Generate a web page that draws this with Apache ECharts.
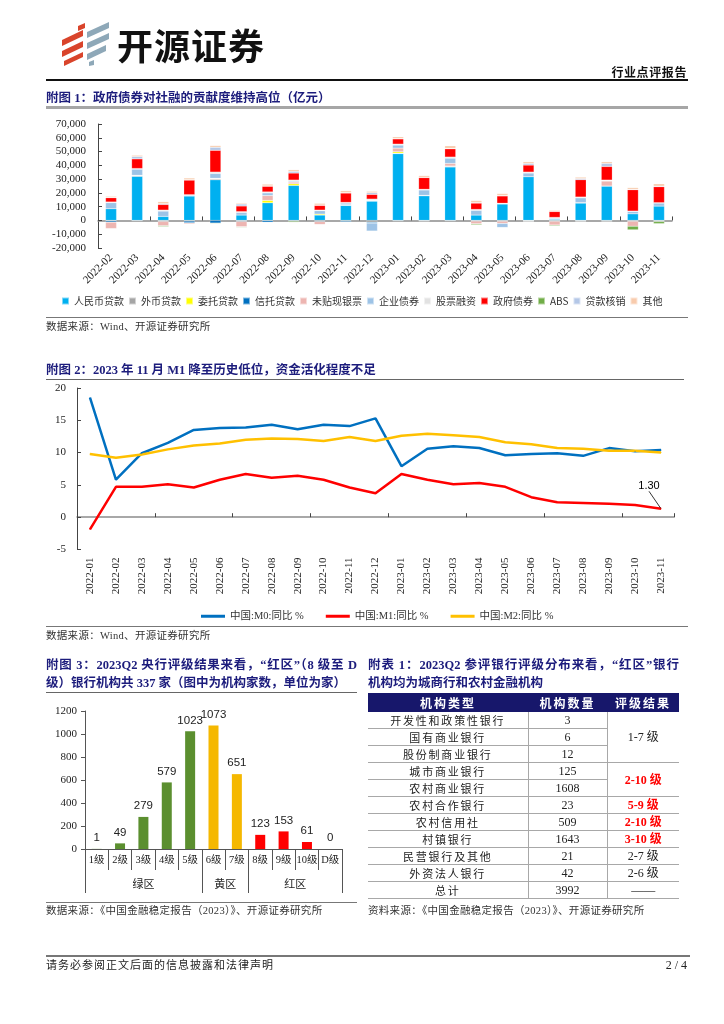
<!DOCTYPE html>
<html><head><meta charset="utf-8">
<script src="https://cdn.jsdelivr.net/npm/echarts@6/dist/echarts.min.js"></script>
<style>
html,body{margin:0;padding:0;background:#fff;}
#page{position:relative;width:724px;height:1024px;overflow:hidden;font-family:"Liberation Serif","Noto Sans CJK SC",serif;color:#222;}
#chart{position:absolute;left:0;top:0;width:724px;height:1024px;}
.t{position:absolute;white-space:nowrap;}
.title{font-weight:bold;color:#1c1c7c;font-size:12.5px;line-height:16px;}
.just{text-align:justify;text-align-last:justify;}
.ln{position:absolute;}
.src{font-size:10.5px;line-height:14px;color:#333;letter-spacing:0.3px;}
#tbl{position:absolute;left:368px;top:693px;width:311px;border-collapse:collapse;table-layout:fixed;}
#tbl th{background:#17176b;color:#fff;font-weight:bold;height:19px;padding:0;font-size:12px;letter-spacing:2px;font-family:"Noto Sans CJK SC",sans-serif;}
#tbl td{height:16px;padding:0;border-bottom:1px solid #a8a8a8;text-align:center;font-size:12px;line-height:16px;}
#tbl td.c1{font-family:"Noto Sans CJK SC",sans-serif;font-size:11px;letter-spacing:1.8px;}
#tbl td.bd{border-right:1px solid #a8a8a8;}
#tbl td.red{color:#ff0000;font-weight:bold;}
</style></head>
<body>
<div id="page">
<div id="chart"></div>
<svg class="ln" style="left:58px;top:20px" width="56" height="46" viewBox="0 0 56 46">
  <g fill="#d9442b">
    <polygon points="20,6 27,3 27,8 20,11"/>
    <polygon points="4,20 25,10 25,16 4,26"/>
    <polygon points="4,31 25,21 25,27 4,37"/>
    <polygon points="6,41 25,32 25,37 6,46"/>
  </g>
  <g fill="#8ea8b8">
    <polygon points="29,12 51,2 51,8 29,18"/>
    <polygon points="29,23 51,13 51,19 29,29"/>
    <polygon points="29,34 48,25 48,31 29,40"/>
    <polygon points="31,42 36,40 36,45 31,46"/>
  </g>
</svg>
<div class="t" style="left:117px;top:23px;font-size:36px;line-height:42px;font-weight:bold;color:#111;letter-spacing:1px;font-family:'Noto Sans CJK SC',sans-serif;">开源证券</div>
<div class="t" style="right:37px;top:66px;font-size:12px;line-height:14px;font-weight:bold;letter-spacing:0.6px;color:#111;">行业点评报告</div>
<div class="ln" style="left:46px;top:79px;width:642px;height:1.5px;background:#111;"></div>

<div class="t title" style="left:46px;top:90px;">附图 1：政府债券对社融的贡献度维持高位（亿元）</div>
<div class="ln" style="left:46px;top:106px;width:642px;height:2.5px;background:#a6a6a6;"></div>
<div class="ln" style="left:46px;top:317px;width:642px;height:1px;background:#777;"></div>
<div class="t src" style="left:46px;top:320px;">数据来源：Wind、开源证券研究所</div>

<div class="t title" style="left:46px;top:362px;">附图 2：2023 年 11 月 M1 降至历史低位，资金活化程度不足</div>
<div class="ln" style="left:46px;top:379px;width:638px;height:1px;background:#666;"></div>
<div class="ln" style="left:46px;top:626px;width:642px;height:1px;background:#777;"></div>
<div class="t src" style="left:46px;top:629px;">数据来源：Wind、开源证券研究所</div>

<div class="t title just" style="left:46px;top:657px;width:311px;">附图 3：2023Q2 央行评级结果来看，“红区”（8 级至 D</div>
<div class="t title" style="left:46px;top:675px;">级）银行机构共 337 家（图中为机构家数，单位为家）</div>
<div class="ln" style="left:46px;top:692px;width:311px;height:1px;background:#666;"></div>
<div class="ln" style="left:46px;top:902px;width:311px;height:1px;background:#777;"></div>
<div class="t src" style="left:46px;top:904px;">数据来源：《中国金融稳定报告（2023）》、开源证券研究所</div>

<div class="t title just" style="left:368px;top:657px;width:311px;">附表 1：2023Q2 参评银行评级分布来看，“红区”银行</div>
<div class="t title" style="left:368px;top:675px;">机构均为城商行和农村金融机构</div>
<table id="tbl"></table>
<div class="t src" style="left:368px;top:904px;">资料来源：《中国金融稳定报告（2023）》、开源证券研究所</div>

<div class="ln" style="left:46px;top:955px;width:644px;height:2px;background:#777;"></div>
<div class="t" style="left:46px;top:958px;font-size:11px;line-height:14px;letter-spacing:1px;color:#222;">请务必参阅正文后面的信息披露和法律声明</div>
<div class="t" style="right:37px;top:958px;font-size:12px;line-height:14px;color:#222;">2 / 4</div>
</div>

<script>
// ---------- 附图1 data (亿元) ----------
const cats1 = ['2022-02','2022-03','2022-04','2022-05','2022-06','2022-07','2022-08','2022-09','2022-10','2022-11','2022-12',
               '2023-01','2023-02','2023-03','2023-04','2023-05','2023-06','2023-07','2023-08','2023-09','2023-10','2023-11'];
const rmb      = [8500, 32000, 2900, 17700, 29500, 3900, 12800, 25400, 3900, 10900, 14000, 48500, 17900, 38800, 3900, 11900, 31700, 800, 12600, 24900, 4800, 10400];
const fx       = [-300, 500, -300, -400, 700, -300, -200, -300, -500, -300, -1300, 300, 200, 500, -300, -400, -100, -400, -200, -300, -400, -300];
const entrust  = [-100, 100, -200, -100, 100, -100, 1700, 1200, 700, 200, 300, 1000, 100, 200, -100, -100, -100, -100, -100, 100, -100, -100];
const trust    = [-900, -100, -300, -1200, -1900, -400, -1100, -300, -400, -700, -600, -100, -100, -100, -100, -100, -100, -100, -100, -100, -100, -100];
const undisc   = [-4600, 200, -3000, -800, 300, -3800, 3600, 1200, -2000, 300, 200, 2700, -200, 1900, -1900, -1600, -300, -2700, 400, 3600, -3600, -300];
const corp     = [4400, 4400, 3900, 600, 3500, 1900, 1900, 700, 2400, 1200, -5800, 2200, 3900, 3800, 3400, -2900, 2700, 700, 3400, 300, 1700, 2200];
const equity   = [500, 500, 700, 400, 1000, 600, 700, 800, 500, 500, 1000, 700, 500, 800, 700, 600, 700, 700, 600, 400, 300, 300];
const gov      = [3100, 7000, 4100, 10600, 15800, 4100, 4100, 5100, 3400, 6800, 3400, 3800, 8500, 6000, 4600, 5300, 5100, 4300, 12600, 9900, 15500, 11600];
const absArr   = [-300, -100, -600, -300, -400, -400, -200, -700, -300, -300, -300, -300, -100, -100, -700, -300, -100, -600, -200, -200, -2600, -1500];
const writeoff = [300, 1700, 600, 300, 2200, 1400, 300, 1200, 300, 300, 1200, 300, 200, 300, 400, 300, 1200, 300, 800, 2200, 300, 400];
const other    = [700, 900, 1400, 1200, 1200, 700, 1200, 1200, 1200, 1400, 1000, 1200, 1200, 1900, 1400, 1400, 1200, 600, 1000, 1200, 1200, 1700];
const names1   = ['人民币贷款','外币贷款','委托贷款','信托贷款','未贴现银票','企业债券','股票融资','政府债券','ABS','贷款核销','其他'];

// ---------- 附图2 data (%) ----------
const cats2 = ['2022-01','2022-02','2022-03','2022-04','2022-05','2022-06','2022-07','2022-08','2022-09','2022-10','2022-11','2022-12',
               '2023-01','2023-02','2023-03','2023-04','2023-05','2023-06','2023-07','2023-08','2023-09','2023-10','2023-11'];
const m0 = [18.5, 5.8, 9.9, 11.5, 13.5, 13.8, 13.9, 14.3, 13.6, 14.3, 14.1, 15.3, 7.9, 10.6, 11.0, 10.7, 9.6, 9.8, 9.9, 9.5, 10.7, 10.2, 10.4];
const m1 = [-1.9, 4.7, 4.7, 5.1, 4.6, 5.8, 6.7, 6.1, 6.4, 5.8, 4.6, 3.7, 6.7, 5.8, 5.1, 5.3, 4.7, 3.1, 2.3, 2.2, 2.1, 1.9, 1.3];
const m2 = [9.8, 9.2, 9.7, 10.5, 11.1, 11.4, 12.0, 12.2, 12.1, 11.8, 12.4, 11.8, 12.6, 12.9, 12.7, 12.4, 11.6, 11.3, 10.7, 10.6, 10.3, 10.3, 10.0];
const names2 = ['中国:M0:同比 %','中国:M1:同比 %','中国:M2:同比 %'];

// ---------- 附图3 data (家) ----------
const grades = ['1级','2级','3级','4级','5级','6级','7级','8级','9级','10级','D级'];
const counts = [1, 49, 279, 579, 1023, 1073, 651, 123, 153, 61, 0];
const zoneNames = ['绿区','黄区','红区'];
const zoneSizes = [5, 2, 4];

// ---------- 附表1 data ----------
const tblHead = ['机构类型','机构数量','评级结果'];
const tblTypes = ['开发性和政策性银行','国有商业银行','股份制商业银行','城市商业银行','农村商业银行','农村合作银行','农村信用社','村镇银行','民营银行及其他','外资法人银行','总计'];
const tblCounts = [3, 6, 12, 125, 1608, 23, 509, 1643, 21, 42, 3992];
const tblGrades = ['1-7 级','1-7 级','1-7 级','2-10 级','2-10 级','5-9 级','2-10 级','3-10 级','2-7 级','2-6 级','——'];

// ---------- build table ----------
(function(){
  const t = document.getElementById('tbl');
  let h = '<colgroup><col style="width:160px"><col style="width:79px"><col style="width:72px"></colgroup>';
  h += '<tr>' + tblHead.map(x=>'<th>'+x+'</th>').join('') + '</tr>';
  for (let i=0;i<tblTypes.length;i++){
    h += '<tr>';
    h += '<td class="c1 bd">'+tblTypes[i]+'</td>';
    h += '<td class="bd">'+tblCounts[i]+'</td>';
    if (i===0 || tblGrades[i]!==tblGrades[i-1]){
      let span=1; while(i+span<tblGrades.length && tblGrades[i+span]===tblGrades[i]) span++;
      const m = tblGrades[i].match(/-(\d+)/);
      const red = m && parseInt(m[1],10) >= 8;
      h += '<td rowspan="'+span+'"'+(red?' class="red"':'')+'>'+tblGrades[i]+'</td>';
    }
    h += '</tr>';
  }
  t.innerHTML = h;
})();

// ---------- chart ----------
const serif = "'Liberation Serif','Noto Sans CJK SC'";
const cjk = "'Noto Sans CJK SC'";
const colors1 = ['#00B0F0','#A5A5A5','#FFFF00','#0070C0','#EDB5B1','#9DC3E6','#E2E2E2','#FF0000','#70AD47','#B4C7E7','#F8CBAD'];
const vals1 = [rmb, fx, entrust, trust, undisc, corp, equity, gov, absArr, writeoff, other];
const zoneColors = ['#5B8F2F','#F5B800','#FF0000'];
const gradeZone = [];
zoneSizes.forEach((n,z)=>{ for(let k=0;k<n;k++) gradeZone.push(z); });
const zoneBounds = [0]; zoneSizes.forEach(n=>zoneBounds.push(zoneBounds[zoneBounds.length-1]+n));
const zoneCenters = zoneSizes.map((n,z)=>zoneBounds[z]+n/2);

const chart = echarts.init(document.getElementById('chart'));
const series = [];
names1.forEach((nm,i)=>{
  series.push({name:nm,type:'bar',stack:'sf',xAxisIndex:0,yAxisIndex:0,barWidth:11,data:vals1[i],
    itemStyle:{color:colors1[i],borderColor:'rgba(255,255,255,0.5)',borderWidth:0.4},emphasis:{disabled:true}});
});
const lineColors = ['#0070C0','#FF0000','#FFC000'];
[m0,m1,m2].forEach((arr,i)=>{
  const s = {name:names2[i],type:'line',xAxisIndex:2,yAxisIndex:1,symbol:'circle',symbolSize:1,showSymbol:true,
    lineStyle:{width:2.5,color:lineColors[i]},itemStyle:{color:lineColors[i]},emphasis:{disabled:true},
    data: arr.map((v,j)=> (i===1 && j===arr.length-1) ? {value:v,label:{show:true}} : v)};
  if (i===1){
    s.label = {show:false,position:'top',formatter:p=>Number(p.value).toFixed(2),fontFamily:'Liberation Sans',fontSize:11,color:'#000'};
    s.labelLayout = {dx:-12,dy:-12};
    s.labelLine = {show:true,lineStyle:{color:'#000',width:0.8}};
  }
  series.push(s);
});
series.push({type:'bar',xAxisIndex:4,yAxisIndex:2,barWidth:10,
  data: counts.map((v,i)=>({value:v,itemStyle:{color:zoneColors[gradeZone[i]]}})),
  label:{show:true,position:'top',distance:5,fontFamily:'Liberation Sans',fontSize:11.5,color:'#222'}});

chart.setOption({
  animation:false,
  textStyle:{fontFamily:serif},
  grid:[
    {left:98,right:52,top:124,bottom:776},
    {left:77,right:50,top:388,bottom:474.5},
    {left:85,right:382,top:711,bottom:175}
  ],
  legend:[
    {data:names1,left:56,top:291,icon:'rect',itemWidth:7,itemHeight:7,itemGap:4,
     textStyle:{fontFamily:cjk,fontSize:10,color:'#333'}},
    {data:names2,left:196,top:606,icon:'rect',itemWidth:24,itemHeight:3,itemGap:22,
     textStyle:{fontFamily:serif,fontSize:10.5,color:'#333'}}
  ],
  xAxis:[
    {gridIndex:0,type:'category',data:cats1,axisLine:{show:false,onZero:false},axisTick:{show:false},
     axisLabel:{rotate:45,interval:0,margin:8,fontSize:11,color:'#222',fontFamily:serif}},
    {gridIndex:0,type:'category',data:cats1,position:'bottom',axisLine:{show:true,onZero:true,lineStyle:{color:'#8c8c8c',width:1.5}},
     axisTick:{show:true,inside:true,length:4,lineStyle:{color:'#444'}},axisLabel:{show:false}},
    {gridIndex:1,type:'category',data:cats2,axisLine:{show:false,onZero:false},axisTick:{show:false},
     axisLabel:{rotate:90,interval:0,margin:8,fontSize:11,color:'#222',fontFamily:serif}},
    {gridIndex:1,type:'category',data:cats2,position:'bottom',axisLine:{show:true,onZero:true,lineStyle:{color:'#8c8c8c',width:1.5}},
     axisTick:{show:true,inside:true,length:4,lineStyle:{color:'#444'}},axisLabel:{show:false}},
    {gridIndex:2,type:'category',data:grades,axisLine:{show:true,lineStyle:{color:'#555'}},
     axisTick:{show:true,interval:0,length:21,lineStyle:{color:'#555'}},
     axisLabel:{interval:0,margin:6,fontSize:10.5,color:'#222',fontFamily:serif}},
    {gridIndex:2,type:'value',min:0,max:grades.length,position:'bottom',offset:21,
     axisLine:{show:false},splitLine:{show:false},
     axisTick:{show:true,customValues:zoneBounds,length:23,lineStyle:{color:'#555'}},
     axisLabel:{customValues:zoneCenters,margin:8,fontSize:11,color:'#222',fontFamily:cjk,
       formatter:v=>{const z=zoneCenters.indexOf(v);return z>=0?zoneNames[z]:'';}}}
  ],
  yAxis:[
    {gridIndex:0,type:'value',min:-20000,max:70000,interval:10000,splitLine:{show:false},
     axisLine:{show:true,lineStyle:{color:'#444'}},axisTick:{show:true,inside:true,length:4,lineStyle:{color:'#444'}},
     axisLabel:{formatter:v=>v.toLocaleString('en-US'),margin:12,fontSize:11,color:'#222',fontFamily:serif}},
    {gridIndex:1,type:'value',min:-5,max:20,interval:5,splitLine:{show:false},
     axisLine:{show:true,lineStyle:{color:'#444'}},axisTick:{show:true,inside:true,length:4,lineStyle:{color:'#444'}},
     axisLabel:{margin:11,fontSize:11,color:'#222',fontFamily:serif}},
    {gridIndex:2,type:'value',min:0,max:1200,interval:200,splitLine:{show:false},
     axisLine:{show:true,lineStyle:{color:'#555'}},axisTick:{show:true,length:4,lineStyle:{color:'#555'}},
     axisLabel:{formatter:v=>String(v),margin:8,fontSize:11,color:'#222',fontFamily:serif}}
  ],
  series: series
});
</script>
</body></html>
